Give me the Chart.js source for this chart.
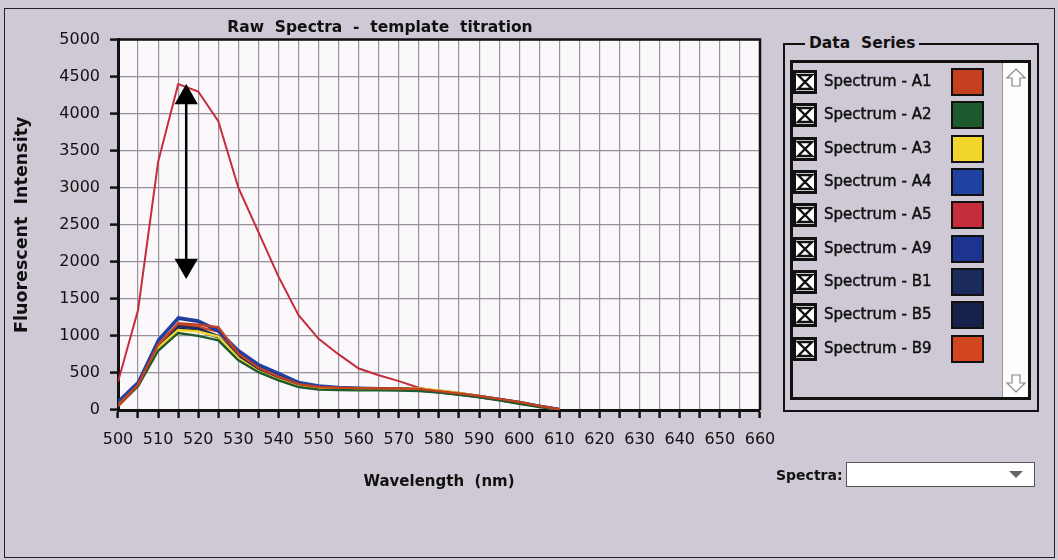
<!DOCTYPE html>
<html>
<head>
<meta charset="utf-8">
<script src="https://cdn.jsdelivr.net/npm/chart.js@4.4.1/dist/chart.umd.min.js"></script>
<style>
  body { margin: 0; background: #cfc9d5; font-family: 'DejaVu Sans', sans-serif; color: #111; }
  #wrap { position: relative; width: 1058px; height: 560px; overflow: hidden; }
  #frame { position: absolute; left: 4px; top: 8px; width: 1051px; height: 550px; border: 1.5px solid #222; box-sizing: border-box; }
  #chart { position: absolute; left: 0; top: 0; }
  #group { position: absolute; left: 783px; top: 43px; width: 256px; height: 369px; border: 2px solid #111; box-sizing: border-box; }
  #groupTitle { position: absolute; left: 805px; top: 34px; padding: 0 4px; background: #cfc9d5; font-weight: bold; font-size: 15.5px; line-height: 18px; }
  #list { position: absolute; left: 790px; top: 60px; width: 241px; height: 340px; border: 3px solid #111; box-sizing: border-box; }
  .row { position: absolute; left: 0; height: 33px; width: 210px; }
  .chk { position: absolute; left: 0; top: 5px; width: 24px; height: 24px; background: #fff; }
  .name { position: absolute; left: 31px; top: 7px; font-size: 15px; line-height: 18px; white-space: nowrap; -webkit-text-stroke: 0.45px #111; }
  .sw { position: absolute; left: 158px; top: 3px; width: 33px; height: 28px; border: 2px solid #111; box-sizing: border-box; }
  #scroll { position: absolute; right: 0; top: 0; width: 26px; height: 334px; background: #fdfdfd; border-left: 1px solid #999; box-sizing: border-box; }
  #scroll svg { position: absolute; left: 1px; }
  #specLabel { position: absolute; left: 776px; top: 466px; font-weight: bold; font-size: 14px; line-height: 18px; }
  #specBox { position: absolute; left: 846px; top: 462px; width: 189px; height: 25px; background: #fff; border: 1px solid #555; box-sizing: border-box; }
  #specBox svg { position: absolute; right: 11px; top: 8px; }
</style>
</head>
<body>
<div id="wrap">
  <div id="frame"></div>
  <canvas id="chart" width="1058" height="560"></canvas>
  <div id="group"></div>
  <div id="groupTitle">Data&nbsp; Series</div>
  <div id="list">
    <div id="scroll">
      <svg width="24" height="24" style="top:3px"><polygon points="12,3 21,12 16,12 16,20 8,20 8,12 3,12" fill="#fff" stroke="#888" stroke-width="1.2"/></svg>
      <svg width="24" height="24" style="top:308px"><polygon points="12,21 21,12 16,12 16,4 8,4 8,12 3,12" fill="#fff" stroke="#888" stroke-width="1.2"/></svg>
    </div>
  </div>
  <div id="specLabel">Spectra:</div>
  <div id="specBox"><svg width="14" height="8"><polygon points="0,0 14,0 7,7" fill="#666"/></svg></div>
</div>
<script>
// wavelength (nm) for every measured point
const wavelengths = [500, 505, 510, 515, 520, 525, 530, 535, 540, 545, 550, 555,
                     560, 565, 570, 575, 580, 585, 590, 595, 600, 605, 610];

// fluorescent intensity per spectrum
const specA1 = [60, 340, 880, 1170, 1150, 1120, 760, 570, 450, 350, 310, 300, 295, 295, 290, 285, 255, 225, 190, 150, 110, 55, 10];
const specA2 = [60, 320, 800, 1040, 1000, 940, 670, 510, 400, 310, 275, 270, 265, 265, 262, 255, 235, 205, 170, 130, 85, 40, 5];
const specA3 = [70, 330, 840, 1080, 1060, 990, 700, 520, 410, 320, 290, 285, 280, 285, 285, 290, 265, 230, 185, 140, 95, 45, 5];
const specA4 = [120, 380, 950, 1250, 1210, 1080, 810, 620, 500, 380, 330, 310, 300, 295, 290, 285, 260, 230, 190, 150, 110, 60, 15];
const specA5 = [380, 1350, 3350, 4400, 4300, 3900, 3000, 2400, 1800, 1280, 960, 750, 560, 470, 390, 300, 250, 220, 180, 140, 100, 50, 10];
const specA9 = [110, 370, 930, 1230, 1190, 1060, 790, 600, 480, 370, 320, 300, 295, 290, 285, 280, 255, 225, 185, 145, 105, 55, 10];
const specB1 = [90, 350, 880, 1130, 1100, 1000, 730, 550, 430, 330, 295, 285, 280, 280, 278, 270, 245, 215, 180, 140, 95, 50, 8];
const specB5 = [80, 340, 860, 1100, 1070, 980, 710, 530, 420, 320, 290, 280, 275, 275, 272, 265, 240, 210, 175, 135, 90, 45, 5];
const specB9 = [50, 330, 860, 1150, 1120, 1060, 740, 560, 440, 345, 305, 295, 290, 290, 290, 285, 255, 220, 185, 145, 100, 50, 5];

const seriesNames = ['Spectrum - A1', 'Spectrum - A2', 'Spectrum - A3', 'Spectrum - A4', 'Spectrum - A5',
                     'Spectrum - A9', 'Spectrum - B1', 'Spectrum - B5', 'Spectrum - B9'];
const seriesValues = [specA1, specA2, specA3, specA4, specA5, specA9, specB1, specB5, specB9];
const seriesColors = ['#c4401f', '#1f5a2e', '#f2d62e', '#2242a2', '#c52c3c', '#1d3390', '#1c2b5e', '#172048', '#d2461f'];

// double arrow marking the drop in intensity
const arrowX = 517;
const arrowTop = 4220;
const arrowBottom = 1950;

const yTicks = { min: 0, max: 5000, step: 500 };
const xTicks = { min: 500, max: 660, step: 5 };

// legend list built from the same arrays
const list = document.getElementById('list');
seriesNames.forEach((name, i) => {
    const row = document.createElement('div');
    row.className = 'row';
    row.style.top = (2 + i * 33.33) + 'px';
    row.innerHTML =
        '<svg class="chk" width="24" height="24"><rect x="1.5" y="1.5" width="21" height="21" fill="#fff" stroke="#111" stroke-width="3"/>' +
        '<polygon points="5,5 19,5 12,12 19,19 5,19 12,12" fill="#fff" stroke="#111" stroke-width="2.4" stroke-linejoin="miter"/></svg>' +
        '<div class="name">' + name + '</div>' +
        '<div class="sw" style="background:' + seriesColors[i] + '"></div>';
    list.appendChild(row);
});

const plotBackground = {
    id: 'plotBackground',
    beforeDraw(chart) {
        const { ctx, chartArea: a } = chart;
        ctx.save();
        ctx.fillStyle = '#faf8fa';
        ctx.fillRect(a.left, a.top, a.right - a.left, a.bottom - a.top);
        ctx.restore();
    },
    afterDraw(chart) {
        const { ctx, chartArea: a } = chart;
        ctx.save();
        ctx.strokeStyle = '#111';
        ctx.lineWidth = 2.5;
        ctx.beginPath();
        ctx.moveTo(a.left, a.top);
        ctx.lineTo(a.right, a.top);
        ctx.lineTo(a.right, a.bottom);
        ctx.stroke();
        ctx.restore();
    }
};

const datasets = seriesNames.map((name, i) => ({
    label: name,
    data: wavelengths.map((w, j) => ({ x: w, y: seriesValues[i][j] })),
    borderColor: seriesColors[i],
    borderWidth: i === 4 ? 2 : 2.4,
    pointRadius: 0,
    tension: 0,
    fill: false
}));

datasets.unshift({
    label: 'arrow',
    data: [{ x: arrowX, y: arrowTop }, { x: arrowX, y: arrowBottom }],
    borderColor: '#000',
    backgroundColor: '#000',
    borderWidth: 2.5,
    pointStyle: 'triangle',
    pointRadius: 11,
    pointRotation: c => (c.dataIndex === 0 ? 0 : 180),
    fill: false
});

Chart.defaults.font.family = "'DejaVu Sans', sans-serif";
Chart.defaults.color = '#111';

new Chart(document.getElementById('chart'), {
    type: 'line',
    data: { datasets },
    options: {
        responsive: false,
        animation: false,
        layout: { padding: { left: 0, right: 298, top: 0, bottom: 0 } },
        plugins: {
            legend: { display: false },
            tooltip: { enabled: false },
            title: {
                display: true,
                text: 'Raw  Spectra  -  template  titration',
                font: { size: 15.5, weight: 'bold' },
                color: '#111',
                padding: { top: 19, bottom: 2 }
            }
        },
        scales: {
            x: {
                type: 'linear',
                min: xTicks.min,
                max: xTicks.max,
                afterFit: s => { s.height = 150; },
                ticks: {
                    stepSize: xTicks.step,
                    autoSkip: false,
                    maxRotation: 0,
                    padding: 12,
                    font: { size: 16 },
                    callback: v => (v % 10 === 0 ? String(v) : '')
                },
                grid: { color: '#98919c', lineWidth: 1.2, tickColor: '#111', tickLength: 8, tickWidth: 2.5 },
                border: { color: '#111', width: 3 },
                title: {
                    display: true,
                    text: 'Wavelength  (nm)',
                    font: { size: 15, weight: 'bold' },
                    padding: { top: 0, bottom: 69 }
                }
            },
            y: {
                min: yTicks.min,
                max: yTicks.max,
                afterFit: s => { s.width = 118; },
                ticks: { stepSize: yTicks.step, padding: 10, font: { size: 16 }, callback: v => String(v) },
                grid: { color: '#98919c', lineWidth: 1.2, tickColor: '#111', tickLength: 8, tickWidth: 2.5 },
                border: { color: '#111', width: 3 },
                title: {
                    display: true,
                    text: 'Fluorescent  Intensity',
                    font: { size: 17.5, weight: 'bold' },
                    padding: { top: 12, bottom: 0 }
                }
            }
        }
    },
    plugins: [plotBackground]
});
</script>
</body>
</html>
